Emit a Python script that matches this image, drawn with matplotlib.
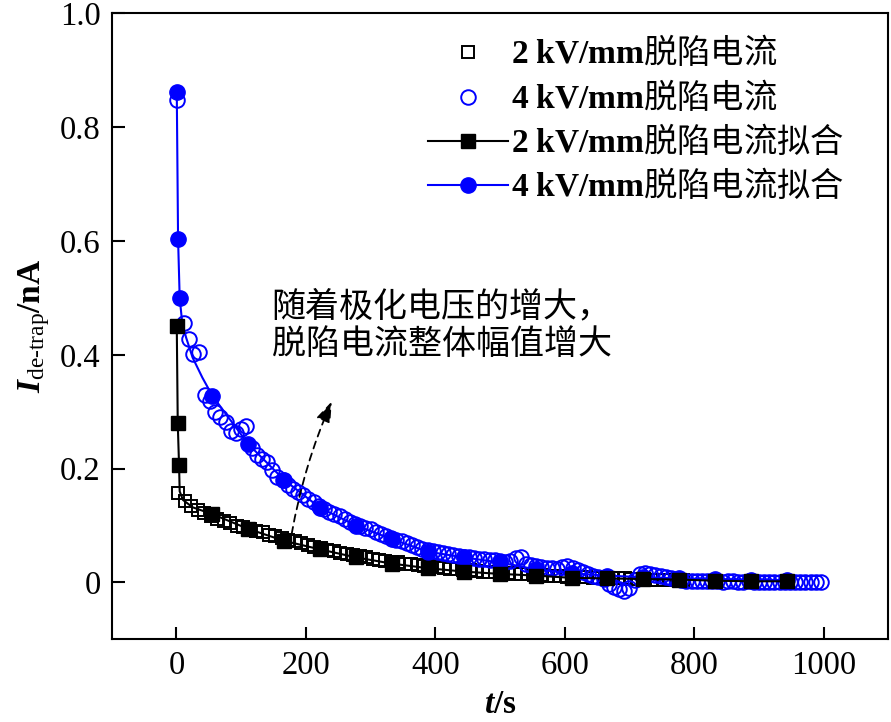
import numpy as np
import matplotlib
matplotlib.use("Agg")
import matplotlib.pyplot as plt

# 字体：拉丁字母用 Times 风格，中文回退到 Noto CJK
plt.rcParams['font.family'] = ['Liberation Serif', 'Noto Sans CJK SC']
plt.rcParams['mathtext.fontset'] = 'custom'
plt.rcParams['mathtext.rm'] = 'Liberation Serif'
plt.rcParams['mathtext.it'] = 'Liberation Serif:italic'
plt.rcParams['mathtext.bf'] = 'Liberation Serif:bold'
plt.rcParams['mathtext.bfit'] = 'Liberation Serif:italic:bold'

# 2 kV/mm 脱陷电流（实测）
t_2kv = [3, 13, 23, 33, 43, 53, 63, 73, 83, 93, 103, 113, 123, 133, 143, 153, 163, 173,
         183, 193, 203, 213, 223, 233, 243, 253, 263, 273, 283, 293, 303, 313, 323, 333,
         343, 353, 363, 373, 383, 393, 403, 413, 423, 433, 443, 453, 463, 473, 483, 493,
         503, 513, 523, 533, 543, 553, 563, 573, 583, 593, 603, 613, 623, 633, 643, 653,
         663, 673, 683, 693, 703, 713, 723, 733, 743, 753, 763, 773, 783]
i_2kv = [0.157, 0.143, 0.134, 0.127, 0.122, 0.117, 0.112, 0.108, 0.104, 0.100, 0.097,
         0.094, 0.091, 0.088, 0.084, 0.081, 0.078, 0.075, 0.072, 0.069, 0.066, 0.063,
         0.060, 0.057, 0.055, 0.052, 0.050, 0.048, 0.046, 0.044, 0.042, 0.040, 0.038,
         0.036, 0.035, 0.033, 0.032, 0.030, 0.029, 0.028, 0.027, 0.026, 0.024, 0.023,
         0.022, 0.021, 0.020, 0.019, 0.018, 0.018, 0.017, 0.016, 0.015, 0.015, 0.014,
         0.013, 0.013, 0.012, 0.011, 0.011, 0.010, 0.010, 0.009, 0.009, 0.008, 0.008,
         0.008, 0.007, 0.007, 0.007, 0.006, 0.006, 0.006, 0.005, 0.005, 0.005, 0.005,
         0.004, 0.004]

# 4 kV/mm 脱陷电流（实测）
t_4kv = [1, 12, 19, 26, 35, 44, 52, 60, 68, 76, 84, 92, 100, 108, 116, 124, 132, 140,
         148, 156, 164, 172, 180, 188, 196, 204, 212, 220, 228, 236, 244, 252, 260, 268,
         276, 284, 292, 300, 308, 316, 324, 332, 340, 348, 356, 364, 372, 380, 388, 396,
         404, 412, 420, 428, 436, 444, 452, 460, 468, 476, 484, 492, 500, 508, 516, 524,
         532, 540, 548, 556, 564, 572, 580, 588, 596, 604, 612, 620, 628, 636, 644, 652,
         660, 668, 676, 684, 692, 700, 708, 716, 724, 732, 740, 748, 756, 764, 772, 780,
         788, 796, 804, 812, 820, 828, 836, 844, 852, 860, 868, 876, 884, 892, 900, 908,
         916, 924, 932, 940, 948, 956, 964, 972, 980, 988, 996]
i_4kv = [0.848, 0.455, 0.428, 0.402, 0.405, 0.330, 0.318, 0.300, 0.290, 0.282, 0.266,
         0.262, 0.270, 0.274, 0.236, 0.224, 0.216, 0.211, 0.197, 0.186, 0.180, 0.171,
         0.165, 0.159, 0.153, 0.147, 0.141, 0.135, 0.129, 0.124, 0.120, 0.116, 0.112,
         0.107, 0.102, 0.099, 0.096, 0.093, 0.089, 0.085, 0.081, 0.078, 0.075, 0.072,
         0.069, 0.066, 0.063, 0.059, 0.057, 0.055, 0.053, 0.051, 0.050, 0.048, 0.047,
         0.045, 0.044, 0.043, 0.042, 0.041, 0.040, 0.039, 0.037, 0.036, 0.038, 0.043,
         0.045, 0.033, 0.031, 0.029, 0.027, 0.026, 0.025, 0.024, 0.027, 0.029, 0.026,
         0.022, 0.018, 0.015, 0.012, 0.010, 0.006, -0.002, -0.008, -0.012, -0.015,
         -0.009, 0.004, 0.014, 0.016, 0.015, 0.013, 0.012, 0.010, 0.008, 0.006, 0.004,
         0.003, 0.003, 0.002, 0.002, 0.003, 0.002, 0.002, 0.001, 0.002, 0.002, 0.001,
         0.001, 0.002, 0.001, 0.001, 0.001, 0.000, 0.001, 0.001, 0.000, 0.000, 0.001,
         0.000, 0.000, 0.000, 0.000, 0.000]

# 拟合曲线
fit2_t = [0.5, 2, 4, 5, 10, 25, 55.5, 111, 166.5, 222, 277.5, 333, 388.5, 444, 499.5,
          555, 610.5, 666, 721.5, 777, 832.5, 888, 943.5]
fit2_i = [0.450, 0.280, 0.207, 0.160, 0.145, 0.132, 0.120, 0.094, 0.073, 0.058, 0.044,
          0.033, 0.025, 0.019, 0.015, 0.012, 0.008, 0.007, 0.006, 0.005, 0.003, 0.002,
          0.002]
fit2_marks = [0, 1, 2] + list(range(6, 23))

fit4_t = [0.5, 2.5, 5, 9, 15, 25, 40, 55.5, 111, 166.5, 222, 277.5, 333, 388.5, 444,
          499.5, 555, 610.5, 666, 721.5, 777, 832.5, 888, 943.5]
fit4_i = [0.862, 0.604, 0.500, 0.455, 0.430, 0.395, 0.360, 0.328, 0.243, 0.180, 0.131,
          0.100, 0.076, 0.054, 0.044, 0.035, 0.023, 0.016, 0.012, 0.009, 0.007, 0.006,
          0.005, 0.004]
fit4_marks = [0, 1, 2] + list(range(7, 24))

labels = [r'$\mathbf{2\ kV/mm}$脱陷电流', r'$\mathbf{4\ kV/mm}$脱陷电流',
          r'$\mathbf{2\ kV/mm}$脱陷电流拟合', r'$\mathbf{4\ kV/mm}$脱陷电流拟合']
ylab = r'$\mathbfit{I}_{\mathrm{de' + '\u2010' + r'trap}}\mathbf{/nA}$'

fig = plt.figure(figsize=(8.91, 7.22), dpi=100)
ax = fig.add_axes([0.1254, 0.1145, 0.8716, 0.8671])

h1, = ax.plot(t_2kv, i_2kv, ls='none', marker='s', ms=8, mfc='none', mec='black', mew=1.4)
h2, = ax.plot(t_4kv, i_4kv, ls='none', marker='o', ms=10.5, mfc='none', mec='#0000ff', mew=1.4)
h4, = ax.plot(fit4_t, fit4_i, color='#0000ff', lw=1.5, marker='o', ms=11,
              markevery=fit4_marks, mfc='#0000ff', mec='#0000ff')
h3, = ax.plot(fit2_t, fit2_i, color='black', lw=1.5, marker='s', ms=10.5,
              markevery=fit2_marks, mfc='black', mec='black')

ax.set_xlim(-100, 1100)
ax.set_ylim(-0.1, 1.0)
ax.set_xticks([0, 200, 400, 600, 800, 1000])
ax.set_yticks([0, 0.2, 0.4, 0.6, 0.8, 1.0])
ax.set_yticklabels(['0', '0.2', '0.4', '0.6', '0.8', '1.0'])
ax.tick_params(direction='in', length=9, width=1.5, labelsize=23.5, pad=8)
for s in ax.spines.values():
    s.set_linewidth(1.5)

ax.set_xlabel(r'$\mathbfit{t}\mathbf{/s}$', fontsize=24, labelpad=6)
ax.set_ylabel(ylab, fontsize=24, labelpad=6)

# 图例：中文部分用 CJK 字体（mathtext 的默认字体取自文本本身的字体）
leg = ax.legend([h1, h2, h3, h4], labels, loc='upper left', bbox_to_anchor=(0.407, 0.965),
                frameon=False, prop={'family': 'Noto Sans CJK SC', 'size': 24},
                handlelength=2.4, handletextpad=0.1,
                borderpad=0, borderaxespad=0, labelspacing=0.27)

ax.text(147, 0.513, '随着极化电压的增大，\n脱陷电流整体幅值增大', fontsize=24.5,
        ha='left', va='top', linespacing=1.25)
ax.annotate('', xy=(240, 0.318), xytext=(178, 0.085),
            arrowprops=dict(arrowstyle='-|>,head_length=0.7,head_width=0.25', color='black',
                            lw=1.3, ls=(0, (4, 3)), mutation_scale=18,
                            connectionstyle='arc3,rad=-0.06', shrinkA=0, shrinkB=0))

fig.savefig('out.png', dpi=100)
